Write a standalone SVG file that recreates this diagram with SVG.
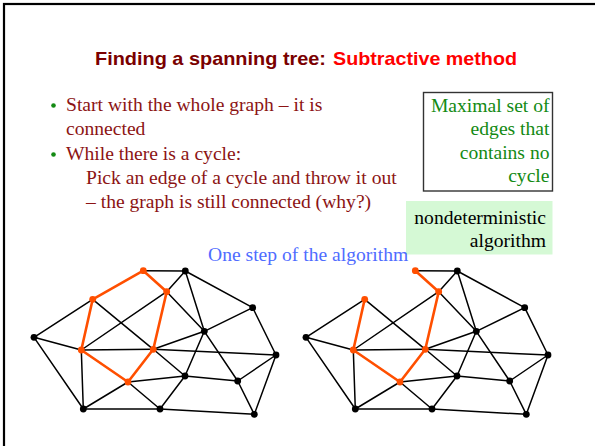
<svg xmlns="http://www.w3.org/2000/svg" width="595" height="446" viewBox="0 0 595 446">
<style>
.e{stroke:#000;stroke-width:1.5;fill:none;stroke-linecap:round}
.o{stroke:#ff4f00;stroke-width:2.6;fill:none;stroke-linecap:round}
.nb{fill:#000}
.no{fill:#ff4f00}
.t{font-family:"Liberation Serif","Times New Roman",serif;font-size:19.6px}
.dr{fill:#8c1414}
.gr{fill:#138a13}
</style>
<rect x="4" y="4" width="600" height="460" fill="#fff" stroke="#000" stroke-width="2.2"/>
<g id="title">
<text x="95" y="65" font-family="Liberation Sans,Arial,sans-serif" font-weight="bold" font-size="18.5" fill="#7a0000" textLength="231" lengthAdjust="spacingAndGlyphs">Finding a spanning tree:</text>
<text x="333" y="65" font-family="Liberation Sans,Arial,sans-serif" font-weight="bold" font-size="18.5" fill="#ff0000" textLength="184" lengthAdjust="spacingAndGlyphs">Subtractive method</text>
</g>
<g id="bullets">
<circle cx="53.5" cy="105.5" r="2.3" fill="#138a13"/>
<circle cx="53.5" cy="154.5" r="2.3" fill="#138a13"/>
<text class="t dr" x="66" y="110.5">Start with the whole graph – it is</text>
<text class="t dr" x="66" y="134.5">connected</text>
<text class="t dr" x="66" y="160">While there is a cycle:</text>
<text class="t dr" x="86" y="183.5">Pick an edge of a cycle and throw it out</text>
<text class="t dr" x="86" y="207.5">– the graph is still connected (why?)</text>
</g>
<g id="maximal-box">
<rect x="423.5" y="92.5" width="129" height="98.5" fill="#fff" stroke="#333" stroke-width="1.4"/>
<g class="t gr" text-anchor="end">
<text x="549.5" y="111.5">Maximal set of</text>
<text x="549.5" y="135">edges that</text>
<text x="549.5" y="158.5">contains no</text>
<text x="549.5" y="182">cycle</text>
</g>
</g>
<g id="nondeterministic-box">
<rect x="406" y="201" width="146.5" height="53.5" fill="#d5f9d5"/>
<g class="t" fill="#000" text-anchor="end">
<text x="546" y="223.5">nondeterministic</text>
<text x="546" y="247">algorithm</text>
</g>
</g>
<g id="caption">
<text class="t" x="208" y="261" fill="#4f6cff">One step of the algorithm</text>
</g>
<g id="connectors">
<g id="left-edges">
<line class="e" x1="143.3" y1="270.7" x2="185.3" y2="271"/>
<line class="e" x1="185.3" y1="271" x2="166.7" y2="291.7"/>
<line class="e" x1="185.3" y1="271" x2="204.3" y2="331.3"/>
<line class="e" x1="185.3" y1="271" x2="252.7" y2="307.7"/>
<line class="e" x1="166.7" y1="291.7" x2="204.3" y2="331.3"/>
<line class="e" x1="166.7" y1="291.7" x2="81.3" y2="350"/>
<line class="e" x1="92.7" y1="299.3" x2="34" y2="337.3"/>
<line class="e" x1="92.7" y1="299.3" x2="153.3" y2="349.3"/>
<line class="e" x1="34" y1="337.3" x2="81.3" y2="350"/>
<line class="e" x1="34" y1="337.3" x2="83.3" y2="409"/>
<line class="e" x1="81.3" y1="350" x2="153.3" y2="349.3"/>
<line class="e" x1="81.3" y1="350" x2="83.3" y2="409"/>
<line class="e" x1="153.3" y1="349.3" x2="276" y2="355"/>
<line class="e" x1="153.3" y1="349.3" x2="204.3" y2="331.3"/>
<line class="e" x1="153.3" y1="349.3" x2="185" y2="376"/>
<line class="e" x1="128" y1="382" x2="185" y2="376"/>
<line class="e" x1="128" y1="382" x2="83.3" y2="409"/>
<line class="e" x1="128" y1="382" x2="160" y2="409"/>
<line class="e" x1="185" y1="376" x2="204.3" y2="331.3"/>
<line class="e" x1="185" y1="376" x2="160" y2="409"/>
<line class="e" x1="185" y1="376" x2="237.7" y2="381"/>
<line class="e" x1="204.3" y1="331.3" x2="252.7" y2="307.7"/>
<line class="e" x1="204.3" y1="331.3" x2="237.7" y2="381"/>
<line class="e" x1="252.7" y1="307.7" x2="276" y2="355"/>
<line class="e" x1="276" y1="355" x2="237.7" y2="381"/>
<line class="e" x1="276" y1="355" x2="254.3" y2="414.3"/>
<line class="e" x1="237.7" y1="381" x2="254.3" y2="414.3"/>
<line class="e" x1="83.3" y1="409" x2="160" y2="409"/>
<line class="e" x1="160" y1="409" x2="254.3" y2="414.3"/>
<line class="o" x1="143.3" y1="270.7" x2="166.7" y2="291.7"/>
<line class="o" x1="143.3" y1="270.7" x2="92.7" y2="299.3"/>
<line class="o" x1="166.7" y1="291.7" x2="153.3" y2="349.3"/>
<line class="o" x1="92.7" y1="299.3" x2="81.3" y2="350"/>
<line class="o" x1="81.3" y1="350" x2="128" y2="382"/>
<line class="o" x1="128" y1="382" x2="153.3" y2="349.3"/>
</g>
<g id="right-edges" transform="translate(272,0)">
<line class="e" x1="143.3" y1="270.7" x2="185.3" y2="271"/>
<line class="e" x1="185.3" y1="271" x2="166.7" y2="291.7"/>
<line class="e" x1="185.3" y1="271" x2="204.3" y2="331.3"/>
<line class="e" x1="185.3" y1="271" x2="252.7" y2="307.7"/>
<line class="e" x1="166.7" y1="291.7" x2="204.3" y2="331.3"/>
<line class="e" x1="166.7" y1="291.7" x2="81.3" y2="350"/>
<line class="e" x1="92.7" y1="299.3" x2="34" y2="337.3"/>
<line class="e" x1="92.7" y1="299.3" x2="153.3" y2="349.3"/>
<line class="e" x1="34" y1="337.3" x2="81.3" y2="350"/>
<line class="e" x1="34" y1="337.3" x2="83.3" y2="409"/>
<line class="e" x1="81.3" y1="350" x2="153.3" y2="349.3"/>
<line class="e" x1="81.3" y1="350" x2="83.3" y2="409"/>
<line class="e" x1="153.3" y1="349.3" x2="276" y2="355"/>
<line class="e" x1="153.3" y1="349.3" x2="204.3" y2="331.3"/>
<line class="e" x1="153.3" y1="349.3" x2="185" y2="376"/>
<line class="e" x1="128" y1="382" x2="185" y2="376"/>
<line class="e" x1="128" y1="382" x2="83.3" y2="409"/>
<line class="e" x1="128" y1="382" x2="160" y2="409"/>
<line class="e" x1="185" y1="376" x2="204.3" y2="331.3"/>
<line class="e" x1="185" y1="376" x2="160" y2="409"/>
<line class="e" x1="185" y1="376" x2="237.7" y2="381"/>
<line class="e" x1="204.3" y1="331.3" x2="252.7" y2="307.7"/>
<line class="e" x1="204.3" y1="331.3" x2="237.7" y2="381"/>
<line class="e" x1="252.7" y1="307.7" x2="276" y2="355"/>
<line class="e" x1="276" y1="355" x2="237.7" y2="381"/>
<line class="e" x1="276" y1="355" x2="254.3" y2="414.3"/>
<line class="e" x1="237.7" y1="381" x2="254.3" y2="414.3"/>
<line class="e" x1="83.3" y1="409" x2="160" y2="409"/>
<line class="e" x1="160" y1="409" x2="254.3" y2="414.3"/>
<line class="o" x1="143.3" y1="270.7" x2="166.7" y2="291.7"/>
<line class="o" x1="166.7" y1="291.7" x2="153.3" y2="349.3"/>
<line class="o" x1="92.7" y1="299.3" x2="81.3" y2="350"/>
<line class="o" x1="81.3" y1="350" x2="128" y2="382"/>
<line class="o" x1="128" y1="382" x2="153.3" y2="349.3"/>
</g>
</g>
<g id="left-graph-nodes">
<g id="LA"><circle class="no" cx="143.3" cy="270.7" r="3.4"/></g>
<g id="LB"><circle class="nb" cx="185.3" cy="271" r="3.4"/></g>
<g id="LC"><circle class="no" cx="166.7" cy="291.7" r="3.4"/></g>
<g id="LD"><circle class="no" cx="92.7" cy="299.3" r="3.4"/></g>
<g id="LE"><circle class="nb" cx="252.7" cy="307.7" r="3.4"/></g>
<g id="LF"><circle class="nb" cx="204.3" cy="331.3" r="3.4"/></g>
<g id="LG"><circle class="nb" cx="34" cy="337.3" r="3.4"/></g>
<g id="LH"><circle class="no" cx="81.3" cy="350" r="3.4"/></g>
<g id="LI"><circle class="no" cx="153.3" cy="349.3" r="3.4"/></g>
<g id="LJ"><circle class="nb" cx="276" cy="355" r="3.4"/></g>
<g id="LK"><circle class="nb" cx="185" cy="376" r="3.4"/></g>
<g id="LL"><circle class="no" cx="128" cy="382" r="3.4"/></g>
<g id="LM"><circle class="nb" cx="237.7" cy="381" r="3.4"/></g>
<g id="LN"><circle class="nb" cx="83.3" cy="409" r="3.4"/></g>
<g id="LO"><circle class="nb" cx="160" cy="409" r="3.4"/></g>
<g id="LP"><circle class="nb" cx="254.3" cy="414.3" r="3.4"/></g>
</g>
<g id="right-graph-nodes" transform="translate(272,0)">
<g id="RA"><circle class="no" cx="143.3" cy="270.7" r="3.4"/></g>
<g id="RB"><circle class="nb" cx="185.3" cy="271" r="3.4"/></g>
<g id="RC"><circle class="no" cx="166.7" cy="291.7" r="3.4"/></g>
<g id="RD"><circle class="no" cx="92.7" cy="299.3" r="3.4"/></g>
<g id="RE"><circle class="nb" cx="252.7" cy="307.7" r="3.4"/></g>
<g id="RF"><circle class="nb" cx="204.3" cy="331.3" r="3.4"/></g>
<g id="RG"><circle class="nb" cx="34" cy="337.3" r="3.4"/></g>
<g id="RH"><circle class="no" cx="81.3" cy="350" r="3.4"/></g>
<g id="RI"><circle class="no" cx="153.3" cy="349.3" r="3.4"/></g>
<g id="RJ"><circle class="nb" cx="276" cy="355" r="3.4"/></g>
<g id="RK"><circle class="nb" cx="185" cy="376" r="3.4"/></g>
<g id="RL"><circle class="no" cx="128" cy="382" r="3.4"/></g>
<g id="RM"><circle class="nb" cx="237.7" cy="381" r="3.4"/></g>
<g id="RN"><circle class="nb" cx="83.3" cy="409" r="3.4"/></g>
<g id="RO"><circle class="nb" cx="160" cy="409" r="3.4"/></g>
<g id="RP"><circle class="nb" cx="254.3" cy="414.3" r="3.4"/></g>
</g>
</svg>
